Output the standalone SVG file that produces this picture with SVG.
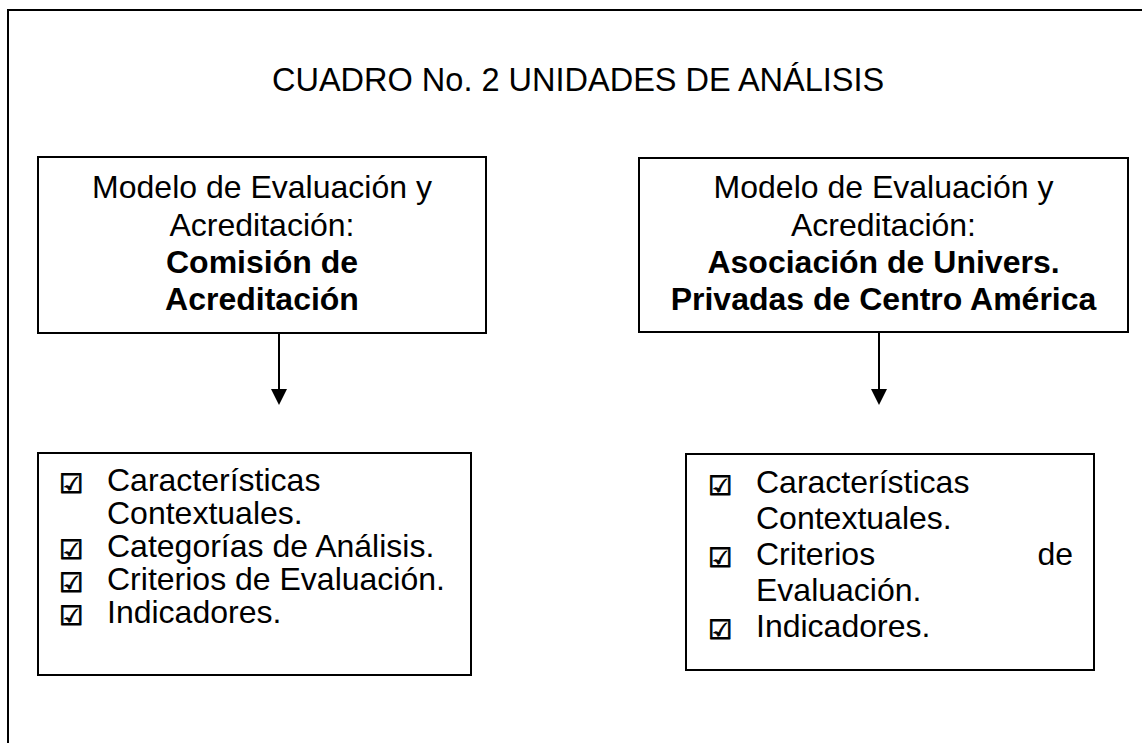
<svg xmlns="http://www.w3.org/2000/svg" width="1142" height="743" viewBox="0 0 1142 743">
<style>
.t{font-family:"Liberation Sans",Arial,sans-serif;font-size:32px;fill:#000}
.b{font-weight:bold}
.c{text-anchor:middle}
.box{fill:#fff;stroke:#000;stroke-width:2}
.ck{font-family:"DejaVu Sans",sans-serif;font-size:27px;fill:#000;stroke:#000;stroke-width:0.9}
.ln{stroke:#000;stroke-width:2;fill:none}
</style>
<rect width="1142" height="743" fill="#fff"/>
<g id="frame">
<path class="ln" d="M8,743 L8,10 L1142,10"/>
</g>
<g id="title">
<text class="t" x="272" y="91" style="font-size:32.5px">CUADRO No. 2 UNIDADES DE ANÁLISIS</text>
</g>
<g id="model-left">
<rect class="box" x="38" y="157" width="448" height="176"/>
<text class="t c" x="262" y="198">Modelo de Evaluación y</text>
<text class="t c" x="262" y="236">Acreditación:</text>
<text class="t c b" x="262" y="273">Comisión de</text>
<text class="t c b" x="262" y="310">Acreditación</text>
</g>
<g id="model-right">
<rect class="box" x="639" y="158" width="489" height="174"/>
<text class="t c" x="883.5" y="198">Modelo de Evaluación y</text>
<text class="t c" x="883.5" y="236">Acreditación:</text>
<text class="t c b" x="883.5" y="273">Asociación de Univers.</text>
<text class="t c b" x="883.5" y="310">Privadas de Centro América</text>
</g>
<g id="connectors">
<line class="ln" x1="279" y1="333" x2="279" y2="392"/>
<path d="M271,389 L287,389 L279,405 Z" fill="#000"/>
<line class="ln" x1="879" y1="332" x2="879" y2="392"/>
<path d="M871,389 L887,389 L879,405 Z" fill="#000"/>
</g>
<g id="list-left">
<rect class="box" x="38" y="453" width="433" height="222"/>
<text class="ck" x="59" y="493">☑</text>
<text class="t" x="107" y="491">Características</text>
<text class="t" x="107" y="524">Contextuales.</text>
<text class="ck" x="59" y="559">☑</text>
<text class="t" x="107" y="557">Categorías de Análisis.</text>
<text class="ck" x="59" y="592">☑</text>
<text class="t" x="107" y="590">Criterios de Evaluación.</text>
<text class="ck" x="59" y="625">☑</text>
<text class="t" x="107" y="623">Indicadores.</text>
</g>
<g id="list-right">
<rect class="box" x="686" y="454" width="408" height="216"/>
<text class="ck" x="708" y="495">☑</text>
<text class="t" x="756" y="493">Características</text>
<text class="t" x="756" y="529">Contextuales.</text>
<text class="ck" x="708" y="567">☑</text>
<text class="t" x="756" y="565">Criterios</text>
<text class="t" x="1073" y="565" text-anchor="end">de</text>
<text class="t" x="756" y="601">Evaluación.</text>
<text class="ck" x="708" y="639">☑</text>
<text class="t" x="756" y="637">Indicadores.</text>
</g>
</svg>
